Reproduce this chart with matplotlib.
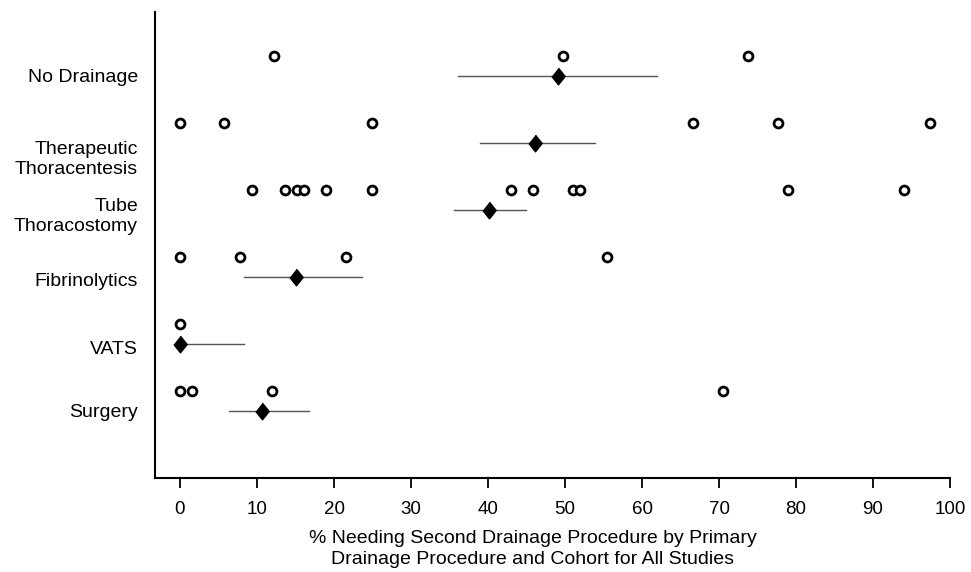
import matplotlib.pyplot as plt
import numpy as np

plt.rcParams['font.family'] = ['Liberation Sans', 'DejaVu Sans']

# categories, top to bottom
categories = ['No Drainage', 'Therapeutic\nThoracentesis', 'Tube\nThoracostomy',
              'Fibrinolytics', 'VATS', 'Surgery']

# individual cohorts (open circles)
cohorts = [
    [12.2, 49.7, 73.8],
    [0.0, 5.7, 24.9, 66.6, 77.6, 97.4],
    [9.3, 13.6, 15.2, 16.1, 18.9, 24.9, 43.0, 45.8, 51.1, 52.0, 79.0, 94.0],
    [0.0, 7.8, 21.6, 55.5],
    [0.0],
    [0.0, 1.6, 12.0, 70.5],
]

# pooled estimate and interval (diamond + line)
pooled = [49.1, 46.1, 40.1, 15.0, 0.0, 10.6]
ci_low = [36.1, 39.0, 35.6, 8.3, 0.0, 6.3]
ci_high = [62.0, 53.9, 44.9, 23.7, 8.3, 16.8]

fig = plt.figure(figsize=(9.71, 5.72), dpi=100)
ax = fig.add_axes([0.1596, 0.1643, 0.8188, 0.8147])

n = len(categories)
ypos = np.arange(n, 0, -1)  # 6 .. 1
circle_off = 0.3
# label vertical offsets in data units (layout only)
label_off = [0.03, 0.25, 0.1, 0.07, 0.09, 0.03]

diamond = [(0, 1), (0.8, 0), (0, -1), (-0.8, 0)]

for i in range(n):
    y = ypos[i]
    ax.plot([ci_low[i], ci_high[i]], [y, y], color='#555555', lw=1.0, zorder=2)
    ax.plot(pooled[i], y, marker=diamond, markersize=12, color='black',
            linestyle='none', zorder=3)
    xs = cohorts[i]
    ax.plot(xs, [y + circle_off] * len(xs), marker='o', markersize=6.4,
            markerfacecolor='white', markeredgecolor='black', markeredgewidth=2.0,
            linestyle='none', zorder=3)
    ax.text(-0.0215, y - label_off[i], categories[i], transform=ax.get_yaxis_transform(),
            ha='right', va='center', fontsize=14, linespacing=1.3)

ax.set_xlim(-3.25, 100)
ax.set_ylim(0, 6.95)
ax.set_xticks(np.arange(0, 101, 10))
ax.set_yticks([])
ax.tick_params(axis='x', direction='out', length=7.5, width=1.3, labelsize=13.5, pad=9)
for s in ['top', 'right']:
    ax.spines[s].set_visible(False)
for s in ['left', 'bottom']:
    ax.spines[s].set_linewidth(1.5)

ax.set_xlabel('% Needing Second Drainage Procedure by Primary\nDrainage Procedure and Cohort for All Studies',
              fontsize=14, linespacing=1.3)
ax.xaxis.set_label_coords(0.475, -0.112)
ax.xaxis.label.set_va('top')

fig.savefig('out.png', dpi=100)
